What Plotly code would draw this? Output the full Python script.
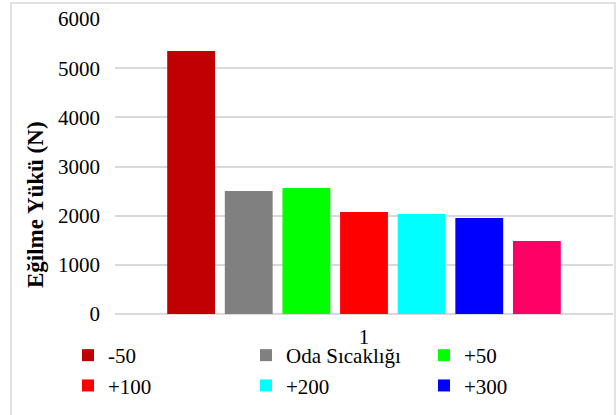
import plotly.graph_objects as go

# Bending load per temperature condition (single sample group "1")
categories = ["1"]
series_names = ["-50", "Oda Sıcaklığı", "+50", "+100", "+200", "+300", "+400"]
series_values = [5350, 2500, 2565, 2075, 2035, 1953, 1485]
series_colors = ["#C00000", "#808080", "#00FF00", "#FF0000", "#00FFFF", "#0000FF", "#FF0066"]
in_legend = [True, True, True, True, True, True, False]
y_ticks = [0, 1000, 2000, 3000, 4000, 5000, 6000]
y_title = "Eğilme Yükü (N)"

FONT = "Liberation Serif, Times New Roman, serif"
GRID = "#D9D9D9"

fig = go.Figure()
for name, val, col, leg in zip(series_names, series_values, series_colors, in_legend):
    fig.add_trace(go.Bar(
        x=categories, y=[val], name=name,
        marker=dict(color=col, line=dict(width=0)),
        showlegend=leg,
    ))

# Left plot edge at x=115px, baseline at y=314px
L, R, T, B = 115, 3, 19, 101
W, H = 616, 415
pw, ph = W - L - R, H - T - B

def px(x):
    return (x - L) / pw

def py(y):
    return (H - B - y) / ph

fig.update_layout(
    width=W, height=H,
    margin=dict(l=L, r=R, t=T, b=B, pad=0),
    paper_bgcolor="white", plot_bgcolor="white",
    barmode="group", bargap=0.19, bargroupgap=0.17,
    font=dict(family=FONT, size=21, color="#000000"),
    xaxis=dict(
        type="category", showgrid=False, zeroline=False,
        showline=False, ticks="", ticklabelstandoff=8,
        tickfont=dict(family=FONT, size=21, color="#000000"),
    ),
    yaxis=dict(
        range=[0, 6000], tickvals=y_ticks, showgrid=True,
        gridcolor=GRID, gridwidth=1.5, zeroline=True,
        zerolinecolor=GRID, zerolinewidth=1.5, showline=False,
        ticks="", ticklabelstandoff=14,
        tickfont=dict(family=FONT, size=21, color="#000000"),
    ),
    legend=dict(
        orientation="h", x=px(68), xanchor="left", y=py(335), yanchor="top",
        entrywidth=133, entrywidthmode="pixels",
        font=dict(family=FONT, size=21, color="#000000"),
        bgcolor="rgba(0,0,0,0)", traceorder="normal",
    ),
    annotations=[dict(
        text=f"<b>{y_title}</b>", textangle=-90, showarrow=False,
        xref="paper", yref="paper", x=px(35), y=py(205),
        xanchor="center", yanchor="middle",
        font=dict(family=FONT, size=23, color="#000000"),
    )],
    shapes=[dict(
        type="rect", xref="paper", yref="paper",
        x0=px(11), x1=px(615), y0=py(430), y1=py(3),
        line=dict(color=GRID, width=1.5), fillcolor="rgba(0,0,0,0)",
        layer="below",
    )],
)

fig.write_html("out.html")
